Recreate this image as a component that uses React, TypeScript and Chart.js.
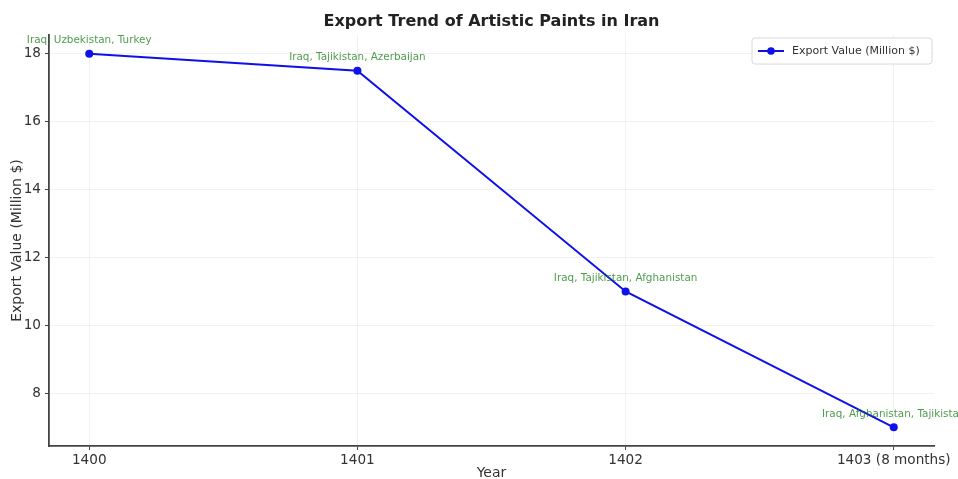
import React, { useEffect, useRef } from "react";
import { Chart, registerables } from "chart.js";

Chart.register(...registerables);

const years = ["1400", "1401", "1402", "1403 (8 months)"];
const exportValues = [18, 17.5, 11, 7];
const destinations = [
  "Iraq, Uzbekistan, Turkey",
  "Iraq, Tajikistan, Azerbaijan",
  "Iraq, Tajikistan, Afghanistan",
  "Iraq, Afghanistan, Tajikistan",
];
const yTickValues = [8, 10, 12, 14, 16, 18];
const chartTitle = "Export Trend of Artistic Paints in Iran";
const seriesLabel = "Export Value (Million $)";
const xAxisTitle = "Year";
const yAxisTitle = "Export Value (Million $)";

const FONT = "'DejaVu Sans', sans-serif";
const LINE_BLUE = "#1010e8";

const overlayPlugin = {
  id: "overlay",
  afterDatasetsDraw(chart: any) {
    const ctx = chart.ctx;
    const meta = chart.getDatasetMeta(0);
    ctx.save();
    ctx.font = `10.4px ${FONT}`;
    ctx.fillStyle = "rgba(20,120,20,0.75)";
    ctx.textAlign = "center";
    ctx.textBaseline = "middle";
    meta.data.forEach((pt: any, i: number) => {
      ctx.fillText(destinations[i], pt.x, pt.y - 13);
    });
    ctx.restore();
  },
  afterDraw(chart: any) {
    const ctx = chart.ctx;
    const area = chart.chartArea;
    ctx.save();
    // title
    ctx.font = `bold 16px ${FONT}`;
    ctx.fillStyle = "#222";
    ctx.textAlign = "center";
    ctx.textBaseline = "middle";
    ctx.fillText(chartTitle, (area.left + area.right) / 2, 22);
    // legend
    const bx = area.right - 182;
    const by = area.top + 3;
    const bw = 180;
    const bh = 26;
    ctx.beginPath();
    const r = 3;
    ctx.moveTo(bx + r, by);
    ctx.lineTo(bx + bw - r, by);
    ctx.quadraticCurveTo(bx + bw, by, bx + bw, by + r);
    ctx.lineTo(bx + bw, by + bh - r);
    ctx.quadraticCurveTo(bx + bw, by + bh, bx + bw - r, by + bh);
    ctx.lineTo(bx + r, by + bh);
    ctx.quadraticCurveTo(bx, by + bh, bx, by + bh - r);
    ctx.lineTo(bx, by + r);
    ctx.quadraticCurveTo(bx, by, bx + r, by);
    ctx.closePath();
    ctx.fillStyle = "rgba(255,255,255,0.85)";
    ctx.fill();
    ctx.strokeStyle = "#d8d8d8";
    ctx.lineWidth = 1;
    ctx.stroke();
    const ly = by + bh / 2;
    ctx.strokeStyle = LINE_BLUE;
    ctx.lineWidth = 2;
    ctx.beginPath();
    ctx.moveTo(bx + 6, ly);
    ctx.lineTo(bx + 32, ly);
    ctx.stroke();
    ctx.fillStyle = LINE_BLUE;
    ctx.beginPath();
    ctx.arc(bx + 19, ly, 3.8, 0, Math.PI * 2);
    ctx.fill();
    ctx.font = `11px ${FONT}`;
    ctx.fillStyle = "#333";
    ctx.textAlign = "left";
    ctx.fillText(chart.data.datasets[0].label, bx + 40, ly);
    ctx.restore();
  },
};

export default function App() {
  const canvasRef = useRef<HTMLCanvasElement>(null);

  useEffect(() => {
    if (!canvasRef.current) return;
    const chart = new Chart(canvasRef.current, {
      type: "line",
      data: {
        datasets: [
          {
            label: seriesLabel,
            data: exportValues.map((v, i) => ({ x: i, y: v })),
            borderColor: LINE_BLUE,
            backgroundColor: LINE_BLUE,
            borderWidth: 2,
            pointRadius: 4,
            pointBorderWidth: 0,
            pointBackgroundColor: LINE_BLUE,
            tension: 0,
          },
        ],
      },
      options: {
        animation: false,
        responsive: true,
        maintainAspectRatio: false,
        layout: { padding: { top: 35, right: 24, left: 0, bottom: 0 } },
        plugins: {
          legend: { display: false },
          title: { display: false },
          tooltip: { enabled: false },
        },
        scales: {
          x: {
            type: "linear",
            min: -0.15,
            max: 3.15,
            afterBuildTicks: (scale: any) => {
              scale.ticks = years.map((_, i) => ({ value: i }));
            },
            afterFit: (scale: any) => {
              scale.height = 33;
            },
            ticks: {
              callback: (v: any) => years[v] ?? "",
              font: { family: FONT, size: 13.6 },
              color: "#333",
              padding: 2,
              maxRotation: 0,
              autoSkip: false,
            },
            grid: {
              color: "rgba(0,0,0,0.05)",
              tickColor: "#444",
              tickLength: 4,
              lineWidth: 1,
            },
            border: { color: "#444", width: 1.8 },
            title: {
              display: true,
              text: xAxisTitle,
              font: { family: FONT, size: 14 },
              color: "#333",
              padding: { top: 0, bottom: -3 },
            },
          },
          y: {
            type: "linear",
            min: 6.45,
            max: 18.55,
            afterBuildTicks: (scale: any) => {
              scale.ticks = yTickValues.map((v) => ({ value: v }));
            },
            afterFit: (scale: any) => {
              scale.width = 49;
            },
            ticks: {
              font: { family: FONT, size: 13.6 },
              color: "#333",
              padding: 4,
            },
            grid: {
              color: "rgba(0,0,0,0.05)",
              tickColor: "#444",
              tickLength: 4,
              lineWidth: 1,
            },
            border: { color: "#444", width: 1.8 },
            title: {
              display: true,
              text: yAxisTitle,
              font: { family: FONT, size: 14 },
              color: "#333",
              padding: { top: 9, bottom: 0 },
            },
          },
        },
      },
      plugins: [overlayPlugin],
    });
    return () => chart.destroy();
  }, []);

  return (
    <div style={{ position: "absolute", left: 0, top: 0, width: 958, height: 479, background: "#fff" }}>
      <canvas ref={canvasRef} />
    </div>
  );
}
